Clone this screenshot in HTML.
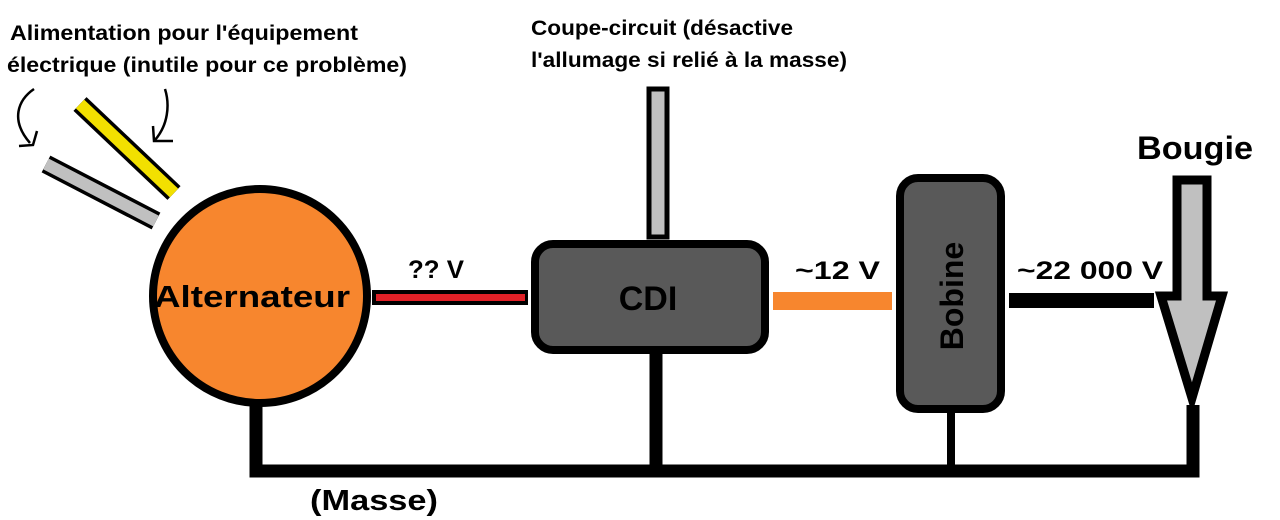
<!DOCTYPE html>
<html><head><meta charset="utf-8"><style>
html,body{margin:0;padding:0;background:#fff;width:1280px;height:520px;overflow:hidden}
svg{display:block}
text{font-family:"Liberation Sans","DejaVu Sans",sans-serif;font-weight:bold;fill:#000}
</style></head><body>
<svg width="1280" height="520" viewBox="0 0 1280 520" xmlns="http://www.w3.org/2000/svg">
<rect width="1280" height="520" fill="#fff"/>
<!-- top labels -->
<text x="10" y="40" font-size="21" textLength="348" lengthAdjust="spacingAndGlyphs">Alimentation pour l'équipement</text>
<text x="7" y="72" font-size="21" textLength="400" lengthAdjust="spacingAndGlyphs">électrique (inutile pour ce problème)</text>
<text x="531" y="35" font-size="21" textLength="262" lengthAdjust="spacingAndGlyphs">Coupe-circuit (désactive</text>
<text x="531" y="67" font-size="21" textLength="316" lengthAdjust="spacingAndGlyphs">l'allumage si relié à la masse)</text>
<!-- curved arrows -->
<path d="M34 89 C18 100 10 120 30 143" fill="none" stroke="#000" stroke-width="2.5"/>
<path d="M19 146 L33 145 L37 131" fill="none" stroke="#000" stroke-width="2.5"/>
<path d="M165 89 C170 105 168 125 155 140" fill="none" stroke="#000" stroke-width="2.5"/>
<path d="M153 126 L154 141 L173 141" fill="none" stroke="#000" stroke-width="2.5"/>
<!-- yellow & gray bars -->
<line x1="80" y1="104" x2="174" y2="193" stroke="#000" stroke-width="19"/>
<line x1="80" y1="104" x2="174" y2="193" stroke="#f2e000" stroke-width="12"/>
<line x1="46" y1="164" x2="156" y2="221" stroke="#000" stroke-width="19"/>
<line x1="46" y1="164" x2="156" y2="221" stroke="#c0c0c0" stroke-width="12"/>
<!-- ground -->
<path d="M256 400 V471 H1193 V405" fill="none" stroke="#000" stroke-width="13"/>
<line x1="656" y1="350" x2="656" y2="470" stroke="#000" stroke-width="13"/>
<line x1="951" y1="410" x2="951" y2="470" stroke="#000" stroke-width="8"/>
<!-- circle -->
<circle cx="260" cy="296" r="107" fill="#f7862e" stroke="#000" stroke-width="8"/>
<text x="252" y="307" font-size="31" text-anchor="middle" textLength="196" lengthAdjust="spacingAndGlyphs">Alternateur</text>
<!-- red wire -->
<rect x="372" y="290" width="156" height="15" fill="#000"/>
<rect x="376" y="294" width="149" height="7" fill="#e02027"/>
<text x="408" y="278" font-size="25" textLength="56" lengthAdjust="spacingAndGlyphs">?? V</text>
<!-- CDI -->
<rect x="649" y="89" width="18" height="148" fill="#c0c0c0" stroke="#000" stroke-width="5"/>
<rect x="535" y="244" width="230" height="106" rx="18" fill="#595959" stroke="#000" stroke-width="8"/>
<text x="648" y="310" font-size="34" text-anchor="middle">CDI</text>
<!-- orange -->
<rect x="773" y="292" width="119" height="18" fill="#f7862e"/>
<text x="795" y="279" font-size="25" textLength="85" lengthAdjust="spacingAndGlyphs">~12 V</text>
<!-- Bobine -->
<rect x="900" y="178" width="101" height="231" rx="18" fill="#595959" stroke="#000" stroke-width="8"/>
<text transform="translate(963 296) rotate(-90)" font-size="32" text-anchor="middle">Bobine</text>
<!-- black wire -->
<rect x="1009" y="293" width="145" height="15" fill="#000"/>
<text x="1017" y="279" font-size="25" textLength="146" lengthAdjust="spacingAndGlyphs">~22 000 V</text>
<!-- spark plug arrow -->
<path d="M1177 180 H1207 V296 H1222 L1192 398 L1161 296 H1177 Z" fill="#c0c0c0" stroke="#000" stroke-width="9" stroke-linejoin="miter"/>
<text x="1137" y="159" font-size="32" textLength="116" lengthAdjust="spacingAndGlyphs">Bougie</text>
<text x="310" y="510" font-size="29" textLength="128" lengthAdjust="spacingAndGlyphs">(Masse)</text>
</svg>
</body></html>
